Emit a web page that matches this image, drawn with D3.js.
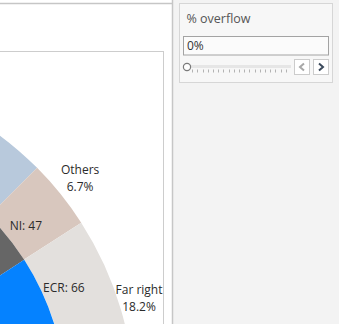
<!DOCTYPE html>
<html>
<head>
<meta charset="utf-8">
<script src="https://cdn.jsdelivr.net/npm/d3@7"></script>
<style>
  html, body { margin: 0; padding: 0; background: #ffffff; }
  svg { display: block; }
  text { font-family: "Open Sans", "Noto Sans", sans-serif; }
</style>
</head>
<body>
<div id="chart"></div>
<script>
// ---- data ----
const groups = ["The Left", "S&D", "Greens/EFA", "Renew", "EPP", "NI", "ECR", "ID"];
const seats = [36, 145, 71, 101, 177, 47, 66, 62];
const groupColors = ["#b0413e", "#e0525c", "#5fae5f", "#f2c14e", "#3d6fb4", "#666666", "#0582ff", "#1d3f6e"];
const labelledGroups = ["NI", "ECR"];

const blocs = ["Left", "Centre", "Others", "Far right"];
const blocShare = [35.7, 39.4, 6.7, 18.2];
const blocColors = ["#e7b7b0", "#b8c9dc", "#d8c7be", "#e3e0dd"];
const labelledBlocs = ["Others", "Far right"];

const filterTitle = "% overflow";
const filterValue = "0%";
const sliderSteps = [0, 5, 10, 15, 20, 25, 30, 35, 40, 45, 50, 55, 60, 65, 70, 75, 80, 85, 90, 95, 100];

// ---- layout ----
const W = 339, H = 324;
const svg = d3.select("#chart").append("svg").attr("width", W).attr("height", H);

// right panel
svg.append("rect").attr("x", 172).attr("y", 0).attr("width", W - 172).attr("height", H).attr("fill", "#f3f3f3");
svg.append("line").attr("x1", 172.5).attr("x2", 172.5).attr("y1", 0).attr("y2", H).attr("stroke", "#c6c6c6").attr("stroke-width", 1.5);
svg.append("line").attr("x1", 0).attr("x2", 172).attr("y1", 3.5).attr("y2", 3.5).attr("stroke", "#c6c6c6").attr("stroke-width", 1.5);

// chart pane box
const pane = {x0: 0, x1: 163.5, y0: 51.5, y1: H + 2};
svg.append("defs").append("clipPath").attr("id", "paneclip")
  .append("rect").attr("x", pane.x0).attr("y", pane.y0).attr("width", pane.x1 - pane.x0).attr("height", pane.y1 - pane.y0);

const g = svg.append("g").attr("clip-path", "url(#paneclip)");
const cx = -200.5, cy = 404;
const rOuter = 335, rMid = 267, rInner = 120;
const center = g.append("g").attr("transform", `translate(${cx},${cy})`);
const labels = svg.append("g").attr("transform", `translate(${cx},${cy})`);

const pie = d3.pie().sort(null).startAngle(-Math.PI / 2).endAngle(Math.PI / 2);

// outer ring (blocs)
const outerArcs = pie(blocShare);
const outerArc = d3.arc().innerRadius(rMid).outerRadius(rOuter);
center.selectAll("path.outer").data(outerArcs).join("path")
  .attr("class", "outer").attr("d", outerArc).attr("fill", (d, i) => blocColors[i]);

// inner ring (groups)
const innerArcs = pie(seats);
const innerArc = d3.arc().innerRadius(rInner).outerRadius(rMid);
center.selectAll("path.inner").data(innerArcs).join("path")
  .attr("class", "inner").attr("d", innerArc).attr("fill", (d, i) => groupColors[i]);

// inner labels
const innerLabelArc = d3.arc().innerRadius(290).outerRadius(290);
innerArcs.forEach((d, i) => {
  if (!labelledGroups.includes(groups[i])) return;
  const [x, y] = innerLabelArc.centroid(d);
  labels.append("text").attr("x", x).attr("y", y + 7.5)
    .attr("text-anchor", "middle").attr("font-size", 12).attr("fill", "#2b2b2b")
    .text(`${groups[i]}: ${seats[i]}`);
});

// outer labels
const outerLabelArc = d3.arc().innerRadius(360).outerRadius(360);
outerArcs.forEach((d, i) => {
  if (!labelledBlocs.includes(blocs[i])) return;
  let [x, y] = outerLabelArc.centroid(d);
  const t = labels.append("text").attr("text-anchor", "middle").attr("font-size", 12).attr("fill", "#2b2b2b");
  const l1 = t.append("tspan").attr("x", x).attr("y", y - 4).text(blocs[i]);
  const l2 = t.append("tspan").attr("x", x).attr("y", y + 13).text(blocShare[i].toFixed(1) + "%");
  // keep label within pane: slide it inward when it would overflow the right edge
  const bb = t.node().getBBox();
  const rightAbs = cx + bb.x + bb.width;
  if (rightAbs > pane.x1 - 1) {
    const shift = rightAbs - (pane.x1 - 1);
    l1.attr("x", x - shift).attr("y", y - 4 - shift * 0.8);
    l2.attr("x", x - shift).attr("y", y + 13 - shift * 0.8);
  }
});

svg.append("rect").attr("x", -2).attr("y", pane.y0).attr("width", pane.x1 + 2).attr("height", pane.y1 - pane.y0)
  .attr("fill", "none").attr("stroke", "#cdcdcd").attr("stroke-width", 1);

// ---- filter card ----
const card = svg.append("g");
card.append("rect").attr("x", 179.5).attr("y", 3.5).attr("width", 153).attr("height", 79)
  .attr("fill", "#f7f7f7").attr("stroke", "#d6d6d6");
card.append("text").attr("x", 186.5).attr("y", 23).attr("font-size", 12.5).attr("fill", "#555555").text(filterTitle);
card.append("rect").attr("x", 183.5).attr("y", 36.5).attr("width", 145).attr("height", 18.5)
  .attr("fill", "#fbfbfb").attr("stroke", "#a3a3a3");
card.append("text").attr("x", 187).attr("y", 50).attr("font-size", 12).attr("fill", "#333333").text(filterValue);

const sx = d3.scaleLinear().domain([0, 100]).range([187, 291]);
card.append("rect").attr("x", sx(0)).attr("y", 65).attr("width", sx(100) - sx(0)).attr("height", 3).attr("fill", "#e6e6e6");
card.selectAll("line.tick").data(sliderSteps.slice(1, -1)).join("line")
  .attr("class", "tick")
  .attr("x1", d => Math.round(sx(d)) + 0.5).attr("x2", d => Math.round(sx(d)) + 0.5)
  .attr("y1", 69.5).attr("y2", 72.5).attr("stroke", "#b3b3b3").attr("stroke-width", 1);
card.append("circle").attr("cx", sx(parseFloat(filterValue))).attr("cy", 67).attr("r", 3.6)
  .attr("fill", "#ffffff").attr("stroke", "#7a7a7a").attr("stroke-width", 1.2);

// step buttons
card.append("rect").attr("x", 294.5).attr("y", 59.5).attr("width", 15).attr("height", 15).attr("fill", "#ffffff").attr("stroke", "#cccccc");
card.append("path").attr("d", "M304,63.5 L300,67 L304,70.5").attr("fill", "none").attr("stroke", "#a8a8a8").attr("stroke-width", 2);
card.append("rect").attr("x", 313.5).attr("y", 59.5).attr("width", 15).attr("height", 15).attr("fill", "#ffffff").attr("stroke", "#cccccc");
card.append("path").attr("d", "M319,63.5 L323,67 L319,70.5").attr("fill", "none").attr("stroke", "#3c4a5c").attr("stroke-width", 2);
</script>
</body>
</html>
